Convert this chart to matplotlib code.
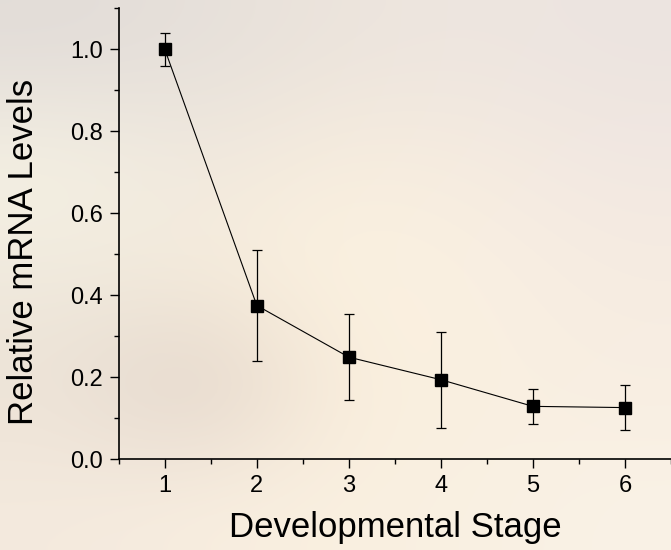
import numpy as np
import matplotlib
matplotlib.use("Agg")
import matplotlib.pyplot as plt
from matplotlib.ticker import MultipleLocator

# ===== data =====
stages = [1, 2, 3, 4, 5, 6]
mrna_levels = [1.0, 0.375, 0.249, 0.194, 0.129, 0.126]
err_low = [0.04, 0.135, 0.105, 0.117, 0.042, 0.055]
err_high = [0.04, 0.135, 0.106, 0.117, 0.042, 0.056]

plt.rcParams['font.family'] = ['Liberation Sans', 'DejaVu Sans']

fig = plt.figure(figsize=(6.71, 5.5), dpi=100)

# ----- background wash (beige, greyer at the top/left) -----
bg = fig.add_axes([0, 0, 1, 1], zorder=-1)
bg_colors = np.array([
    [[226, 220, 216], [230, 224, 218], [236, 228, 220], [238, 230, 224], [236, 228, 224]],
    [[246, 242, 228], [240, 232, 222], [248, 238, 222], [246, 236, 224], [242, 232, 226]],
    [[240, 234, 222], [246, 236, 220], [252, 242, 224], [250, 240, 226], [246, 236, 226]],
    [[236, 226, 214], [222, 208, 198], [250, 238, 220], [250, 240, 224], [248, 238, 226]],
    [[244, 234, 222], [248, 238, 224], [250, 240, 224], [250, 240, 226], [250, 242, 230]],
]) / 255.0
bg.imshow(bg_colors, aspect='auto', interpolation='bicubic', extent=[0, 1, 0, 1])
bg.set_axis_off()

ax = fig.add_axes([0.177, 0.165, 0.823, 0.82])
ax.patch.set_alpha(0)

ax.errorbar(stages, mrna_levels, yerr=[err_low, err_high], color='black',
            marker='s', markersize=8, linewidth=0.8, elinewidth=0.9,
            capsize=3.5, capthick=0.9)

ax.set_xlim(0.5, 6.5)
ax.set_ylim(0, 1.1)
ax.xaxis.set_major_locator(MultipleLocator(1))
ax.xaxis.set_minor_locator(MultipleLocator(0.5))
ax.yaxis.set_major_locator(MultipleLocator(0.2))
ax.yaxis.set_minor_locator(MultipleLocator(0.1))
ax.yaxis.set_major_formatter(matplotlib.ticker.FormatStrFormatter('%.1f'))

for s in ('top', 'right'):
    ax.spines[s].set_visible(False)
for s in ('left', 'bottom'):
    ax.spines[s].set_linewidth(1.2)

ax.tick_params(which='major', direction='out', length=6.5, width=1, labelsize=17, pad=5)
ax.tick_params(which='minor', direction='out', length=3.5, width=1)

ax.set_xlabel('Developmental Stage', fontsize=25)
ax.xaxis.set_label_coords(0.5, -0.173)
ax.xaxis.label.set_va('baseline')
ax.set_ylabel('Relative mRNA Levels', fontsize=25)
ax.yaxis.set_label_coords(-0.172, 0.459)
ax.yaxis.label.set_va('center')

fig.savefig('out.png', dpi=100)
